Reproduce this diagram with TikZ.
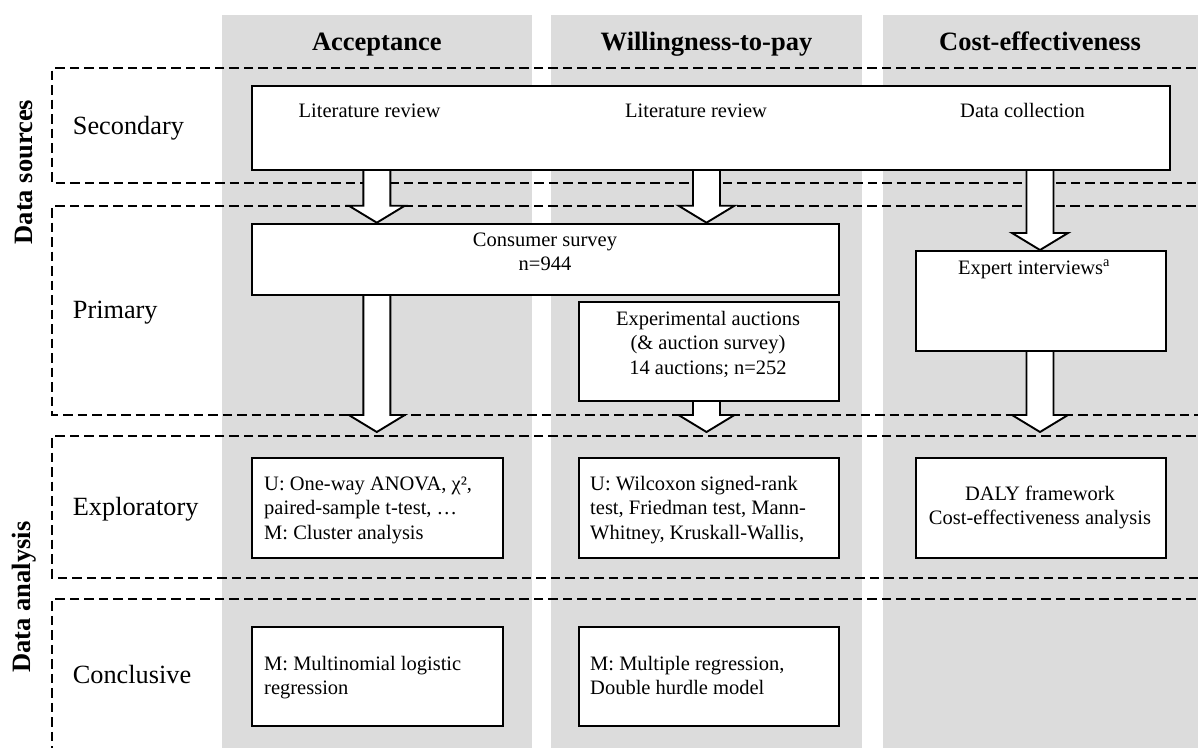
\documentclass[tikz,border=0pt]{standalone}
\usepackage{fontspec}
\setmainfont{Liberation Serif}
\usetikzlibrary{calc}
\definecolor{colgray}{RGB}{220,220,220}
\pgfdeclarelayer{bg}
\pgfdeclarelayer{arr}
\pgfsetlayers{bg,arr,main}
\newcommand\txtlines[2][l]{\begin{tabular}[t]{@{}#1@{}}#2\end{tabular}}
\newcommand\blockarrow[2]{%
  \draw[blockar] ($(#1)+(-13.5,0)$) -- ($(#2)+(-13.5,-17)$) -- ($(#2)+(-28,-17)$) -- (#2)
     -- ($(#2)+(28,-17)$) -- ($(#2)+(13.5,-17)$) -- ($(#1)+(13.5,0)$);}
\tikzset{
  box/.style={draw, line width=1.9pt, fill=white, anchor=north west, inner sep=0pt},
  boxtext/.style={font=\fontsize{20.5}{24.5}\selectfont, inner sep=0pt},
  colhead/.style={font=\bfseries\fontsize{26.5}{30}\selectfont, inner sep=0pt, anchor=base},
  rowlab/.style={font=\fontsize{26.3}{30}\selectfont, inner sep=0pt, anchor=base west},
  sidelab/.style={font=\bfseries\fontsize{26.5}{30}\selectfont, rotate=90, inner sep=0pt},
  region/.style={dash pattern=on 9.5pt off 5pt, line width=2pt},
  blockar/.style={draw, fill=white, line width=1.9pt, line join=miter},
  colbg/.style={fill=colgray}
}
\begin{document}
\begin{tikzpicture}[x=1pt,y=-1pt]
\useasboundingbox (0,0) rectangle (1198,747);
% headers
\node[colhead] (hA) at (376.8,50) {Acceptance};
\node[colhead] (hW) at (706.5,50) {Willingness-to-pay};
\node[colhead] (hC) at (1040,50) {Cost-effectiveness};
% row labels
\node[rowlab] (rSec) at (72.7,134) {Secondary};
\node[rowlab] (rPri) at (72.7,318) {Primary};
\node[rowlab] (rExp) at (72.7,515) {Exploratory};
\node[rowlab] (rCon) at (72.7,683) {Conclusive};
\node[sidelab] (sDS) at (24,172) {Data sources};
\node[sidelab] (sDA) at (24,597) {Data analysis};
% boxes
\node[box, minimum width=917.6pt, minimum height=84.3pt] (sec) at (251.4,84.7) {};
\node[box, minimum width=587pt, minimum height=71.6pt] (cs) at (251.4,222.7) {};
\node[box, minimum width=260.4pt, minimum height=99pt] (ea) at (578,301) {};
\node[box, minimum width=250.2pt, minimum height=100pt] (ei) at (914.6,250) {};
\node[box, minimum width=250.3pt, minimum height=100pt] (ex1) at (251.4,457) {};
\node[box, minimum width=260.4pt, minimum height=100pt] (ex2) at (578,457) {};
\node[box, minimum width=250.2pt, minimum height=100pt] (ex3) at (914.6,457) {};
\node[box, minimum width=250.3pt, minimum height=99.3pt] (co1) at (251.4,625.7) {};
\node[box, minimum width=260.4pt, minimum height=99.3pt] (co2) at (578,625.7) {};
% box texts
\node[boxtext, anchor=base west] (tLR1) at (298.5,117) {Literature review};
\node[boxtext, anchor=base west] (tLR2) at (625,117) {Literature review};
\node[boxtext, anchor=base west] (tDC) at (960,117) {Data collection};
\node[boxtext, anchor=base] (tCS) at (545,246) {\txtlines[c]{Consumer survey\\n=944}};
\node[boxtext, anchor=base] (tEA) at (708,325) {\txtlines[c]{Experimental auctions\\(\& auction survey)\\14 auctions; n=252}};
\node[boxtext, anchor=base] (tEI) at (1034,274) {Expert interviews\textsuperscript{a}};
\node[boxtext, anchor=base west] (tX1) at (264,490) {\txtlines{U: One-way ANOVA, χ², \\paired-sample t-test, …\\M: Cluster analysis}};
\node[boxtext, anchor=base west] (tX2) at (590,490) {\txtlines{U: Wilcoxon signed-rank\\test, Friedman test, Mann-\\Whitney, Kruskall-Wallis,}};
\node[boxtext, anchor=base] (tX3) at (1040,500) {\txtlines[c]{DALY framework\\Cost-effectiveness analysis}};
\node[boxtext, anchor=base west] (tC1) at (264,670) {\txtlines{M: Multinomial logistic\\regression}};
\node[boxtext, anchor=base west] (tC2) at (590,670) {\txtlines{M: Multiple regression,\\Double hurdle model}};
% arrow end points
\coordinate (tipline) at (0,432);
\begin{pgfonlayer}{bg}
  \fill[colbg] (221.6,15) rectangle (532,760);
  \fill[colbg] (551,15) rectangle (862,760);
  \fill[colbg] (883,15) rectangle (1210,760);
  \draw[region] (1210,68.3) -- (52.4,68.3) -- (52.4,183.3) -- (1210,183.3);
  \draw[region] (1210,205.7) -- (52.4,205.7) -- (52.4,415) -- (1210,415);
  \draw[region] (1210,435.7) -- (52.4,435.7) -- (52.4,577.7) -- (1210,577.7);
  \draw[region] (1210,599) -- (52.4,599) -- (52.4,760);
\end{pgfonlayer}
\begin{pgfonlayer}{arr}
  \coordinate (e4) at (hA |- tipline);
  \coordinate (e5) at (hW |- tipline);
  \coordinate (e6) at (hC |- tipline);
  \blockarrow{sec.south -| hA}{cs.north -| hA}
  \blockarrow{sec.south -| hW}{cs.north -| hW}
  \blockarrow{sec.south -| hC}{ei.north -| hC}
  \blockarrow{cs.south -| hA}{e4}
  \blockarrow{ea.south -| hW}{e5}
  \blockarrow{ei.south -| hC}{e6}
\end{pgfonlayer}
\end{tikzpicture}
\end{document}
